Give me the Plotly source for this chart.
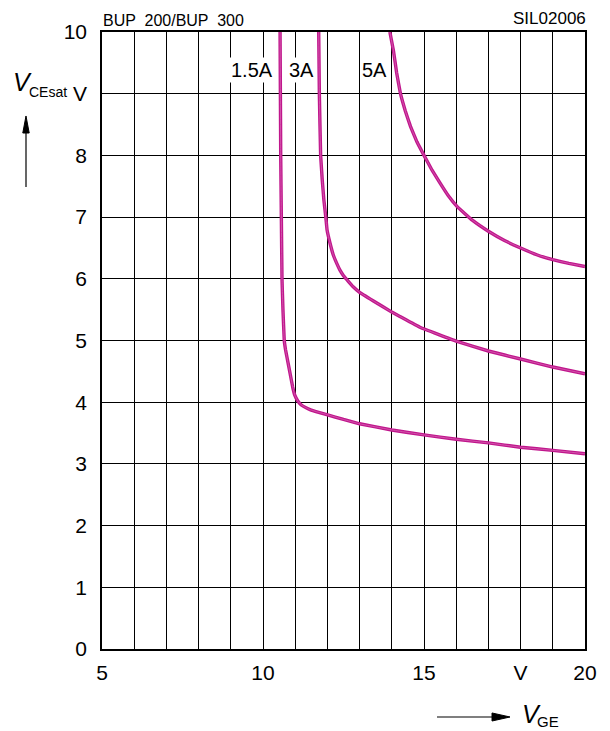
import plotly.graph_objects as go

# ---- data ----
vge_15 = [10.53, 10.54, 10.55, 10.57, 10.59, 10.62, 10.66, 10.70, 10.74, 10.84, 10.92, 10.99, 11.08, 11.18, 11.30, 11.46, 11.7, 11.98, 12.5, 13.0, 14.0, 15.0, 16.0, 17.0, 18.0, 19.0, 20.0]
vce_15 = [10.0, 9.0, 8.0, 7.0, 6.0, 5.5, 5.0, 4.85, 4.74, 4.47, 4.25, 4.11, 4.02, 3.96, 3.92, 3.88, 3.84, 3.80, 3.72, 3.65, 3.55, 3.47, 3.40, 3.34, 3.27, 3.22, 3.165]

vge_3 = [11.73, 11.75, 11.79, 11.84, 11.89, 11.95, 11.99, 12.08, 12.18, 12.29, 12.39, 12.50, 12.60, 12.80, 13.0, 13.43, 14.0, 14.25, 14.89, 16.0, 17.0, 18.0, 19.0, 20.0]
vce_3 = [10.0, 9.0, 8.0, 7.6, 7.28, 7.0, 6.79, 6.58, 6.39, 6.25, 6.14, 6.05, 5.99, 5.87, 5.78, 5.64, 5.46, 5.39, 5.21, 4.99, 4.83, 4.70, 4.57, 4.46]

vge_5 = [13.94, 14.05, 14.15, 14.27, 14.42, 14.58, 14.78, 15.0, 15.25, 15.5, 15.75, 16.03, 16.5, 17.0, 17.5, 18.0, 18.5, 19.0, 19.5, 20.0]
vce_5 = [10.0, 9.7, 9.34, 9.0, 8.72, 8.47, 8.22, 8.0, 7.76, 7.55, 7.35, 7.17, 6.95, 6.77, 6.62, 6.5, 6.39, 6.31, 6.25, 6.2]

curve_labels = ["1.5A", "3A", "5A"]
label_x = [9.67, 11.21, 13.46]
label_y = [9.39, 9.39, 9.39]

x_tickvals = list(range(5, 21))
x_ticktext = ["5", "", "", "", "", "10", "", "", "", "", "15", "", "", "V", "", "20"]
y_tickvals = list(range(0, 11))
y_ticktext = ["0", "1", "2", "3", "4", "5", "6", "7", "8", "V", "10"]

LINE = "#C0168C"
FONT = "Liberation Sans, Arial, sans-serif"

fig = go.Figure()
for xs, ys in [(vge_15, vce_15), (vge_3, vce_3), (vge_5, vce_5)]:
    fig.add_trace(go.Scatter(x=xs, y=ys, mode="lines", line=dict(color=LINE, width=3.4, shape="spline", smoothing=0.2),
                             showlegend=False, hoverinfo="skip"))
    fig.add_trace(go.Scatter(x=xs, y=ys, mode="lines", line=dict(color="#D763B2", width=0.8, shape="spline", smoothing=0.2),
                             showlegend=False, hoverinfo="skip"))

annotations = []
for t, x, y in zip(curve_labels, label_x, label_y):
    annotations.append(dict(x=x, y=y, xref="x", yref="y", text=t, showarrow=False,
                            font=dict(family=FONT, size=20, color="black"), bgcolor="white",
                            xanchor="center", yanchor="middle"))

annotations += [
    dict(x=0.0, y=1.0194, xref="paper", yref="paper", text="BUP  200/BUP  300", showarrow=False,
         font=dict(family=FONT, size=16, color="black"), xanchor="left", yanchor="middle", xshift=-1),
    dict(x=1.0, y=1.0225, xref="paper", yref="paper", text="SIL02006", showarrow=False,
         font=dict(family=FONT, size=17, color="black"), xanchor="right", yanchor="middle", xshift=3),
    # y-axis title V_CEsat
    dict(x=-0.188, y=0.9182, xref="paper", yref="paper", text="<i>V</i>", showarrow=False,
         font=dict(family=FONT, size=25, color="black"), xanchor="left", yanchor="middle"),
    dict(x=-0.1545, y=0.9027, xref="paper", yref="paper", text="CEsat", showarrow=False,
         font=dict(family=FONT, size=14, color="black"), xanchor="left", yanchor="middle"),
    # x-axis title V_GE
    dict(x=0.866, y=-0.1053, xref="paper", yref="paper", text="<i>V</i>", showarrow=False,
         font=dict(family=FONT, size=25, color="black"), xanchor="left", yanchor="middle"),
    dict(x=0.8975, y=-0.1167, xref="paper", yref="paper", text="GE", showarrow=False,
         font=dict(family=FONT, size=15, color="black"), xanchor="left", yanchor="middle"),
]

shapes = [
    # vertical arrow (y axis direction)
    dict(type="line", xref="paper", yref="paper", x0=-0.15735, x1=-0.15735, y0=0.7488, y1=0.84,
         line=dict(color="black", width=1.2)),
    dict(type="path", xref="paper", yref="paper",
         path="M -0.15735,0.8639 L -0.1640,0.8363 L -0.1507,0.8363 Z",
         fillcolor="black", line=dict(color="black", width=1)),
    # horizontal arrow (x axis direction)
    dict(type="line", xref="paper", yref="paper", x0=0.6936, x1=0.815, y0=-0.1102, y1=-0.1102,
         line=dict(color="black", width=1.2)),
    dict(type="path", xref="paper", yref="paper",
         path="M 0.8447,-0.1102 L 0.8075,-0.1037 L 0.8075,-0.1167 Z",
         fillcolor="black", line=dict(color="black", width=1)),
]

axis_common = dict(showgrid=True, gridcolor="black", gridwidth=1, showline=True, mirror=True,
                   linecolor="black", linewidth=1.5, zeroline=False, ticks="",
                   tickfont=dict(family=FONT, size=21, color="black"))

fig.update_layout(
    width=602, height=723,
    margin=dict(l=94, r=25, t=24, b=82),
    paper_bgcolor="white", plot_bgcolor="white",
    xaxis=dict(range=[5, 20], tickmode="array", tickvals=x_tickvals, ticktext=x_ticktext,
               ticklabelstandoff=4, **axis_common),
    yaxis=dict(range=[0, 10], tickmode="array", tickvals=y_tickvals, ticktext=y_ticktext,
               ticklabelstandoff=9, **axis_common),
    annotations=annotations,
    shapes=shapes,
)

fig.write_html("out.html")
